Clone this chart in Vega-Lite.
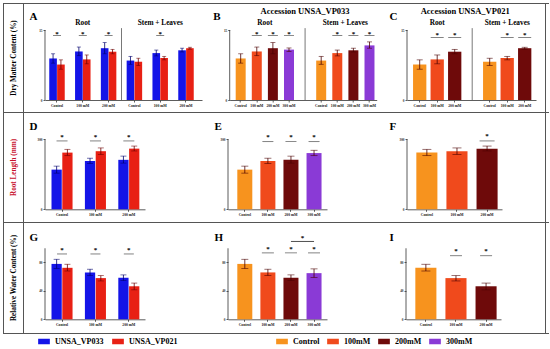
{
"$schema": "https://vega.github.io/schema/vega-lite/v6.json",
"padding": {"left": 3, "top": 3, "right": 0, "bottom": 0},
"datasets": {
"dmc": [
{"acc":"UNSA_VP033","tr":"Control","key":"Root|Control","v":8.9,"lo":7.9,"hi":9.9},
{"acc":"UNSA_VP033","tr":"100mM","key":"Root|100mM","v":10.4,"lo":9.5,"hi":11.35},
{"acc":"UNSA_VP033","tr":"200mM","key":"Root|200mM","v":11.1,"lo":9.9,"hi":12.3},
{"acc":"UNSA_VP033","tr":"300mM","key":"Root|300mM","v":10.8,"lo":10.4,"hi":11.15},
{"acc":"UNSA_VP033","tr":"Control","key":"Stem|Control","v":8.45,"lo":7.65,"hi":9.35},
{"acc":"UNSA_VP033","tr":"100mM","key":"Stem|100mM","v":10.05,"lo":9.45,"hi":10.7},
{"acc":"UNSA_VP033","tr":"200mM","key":"Stem|200mM","v":10.65,"lo":10.3,"hi":11.1},
{"acc":"UNSA_VP033","tr":"300mM","key":"Stem|300mM","v":11.7,"lo":11.1,"hi":12.45},
{"acc":"UNSA_VP021","tr":"Control","key":"Root|Control","v":7.6,"lo":6.6,"hi":8.6},
{"acc":"UNSA_VP021","tr":"100mM","key":"Root|100mM","v":8.7,"lo":7.75,"hi":9.65},
{"acc":"UNSA_VP021","tr":"200mM","key":"Root|200mM","v":10.35,"lo":9.9,"hi":10.85},
{"acc":"UNSA_VP021","tr":"Control","key":"Stem|Control","v":8.2,"lo":7.4,"hi":8.95},
{"acc":"UNSA_VP021","tr":"100mM","key":"Stem|100mM","v":9.0,"lo":8.6,"hi":9.35},
{"acc":"UNSA_VP021","tr":"200mM","key":"Stem|200mM","v":11.1,"lo":10.9,"hi":11.3}
],
"rl": [
{"acc":"UNSA_VP033","tr":"Control","key":"Control","v":170,"lo":155,"hi":185},
{"acc":"UNSA_VP033","tr":"100mM","key":"100mM","v":207,"lo":196,"hi":219},
{"acc":"UNSA_VP033","tr":"200mM","key":"200mM","v":212,"lo":198,"hi":228},
{"acc":"UNSA_VP033","tr":"300mM","key":"300mM","v":241,"lo":230,"hi":253},
{"acc":"UNSA_VP021","tr":"Control","key":"Control","v":243,"lo":230,"hi":257},
{"acc":"UNSA_VP021","tr":"100mM","key":"100mM","v":249,"lo":235,"hi":263},
{"acc":"UNSA_VP021","tr":"200mM","key":"200mM","v":260,"lo":250,"hi":271}
],
"rwc": [
{"acc":"UNSA_VP033","tr":"Control","key":"Control","v":78,"lo":71.5,"hi":84.5},
{"acc":"UNSA_VP033","tr":"100mM","key":"100mM","v":66,"lo":61.5,"hi":70.5},
{"acc":"UNSA_VP033","tr":"200mM","key":"200mM","v":58.5,"lo":54.5,"hi":62.5},
{"acc":"UNSA_VP033","tr":"300mM","key":"300mM","v":65,"lo":59,"hi":71},
{"acc":"UNSA_VP021","tr":"Control","key":"Control","v":72.5,"lo":68,"hi":77.5},
{"acc":"UNSA_VP021","tr":"100mM","key":"100mM","v":58,"lo":54,"hi":61.5},
{"acc":"UNSA_VP021","tr":"200mM","key":"200mM","v":46.5,"lo":41.5,"hi":51}
],
"sig": [
{"p":"A","key":"Root|Control"},{"p":"A","key":"Root|100mM"},{"p":"A","key":"Root|200mM"},{"p":"A","key":"Stem|100mM"},
{"p":"B","key":"Root|100mM"},{"p":"B","key":"Root|200mM"},{"p":"B","key":"Root|300mM"},{"p":"B","key":"Stem|100mM"},{"p":"B","key":"Stem|200mM"},{"p":"B","key":"Stem|300mM"},
{"p":"C","key":"Root|100mM"},{"p":"C","key":"Root|200mM"},{"p":"C","key":"Stem|100mM"},{"p":"C","key":"Stem|200mM"},
{"p":"D","key":"Control"},{"p":"D","key":"100mM"},{"p":"D","key":"200mM"},
{"p":"E","key":"100mM"},{"p":"E","key":"200mM"},{"p":"E","key":"300mM"},
{"p":"F","key":"200mM"},
{"p":"G","key":"Control"},{"p":"G","key":"100mM"},{"p":"G","key":"200mM"},
{"p":"H","key":"100mM"},{"p":"H","key":"200mM"},{"p":"H","key":"300mM"},
{"p":"I","key":"100mM"},{"p":"I","key":"200mM"}
]
},
"spacing": 0,
"resolve": {"scale": {"xOffset": "independent"}},
"vconcat": [
{"width": 546, "height": 1, "data": {"values": []}, "mark": {"type": "text", "fontSize": 0}, "encoding": {"text": {"value": ""}}, "view": {"fill": "#555", "stroke": null}},
{"hconcat": [
 {"width": 1, "height": 108, "data": {"values": []}, "mark": {"type": "text", "fontSize": 0}, "encoding": {"text": {"value": ""}}, "view": {"fill": "#555", "stroke": null}},
 {"width": 19, "height": 108, "data": {"values": [{"t": "Dry Matter Content (%)"}]}, "mark": {"type": "text", "angle": 270, "fontSize": 7.2}, "encoding": {"text": {"field": "t"}}},
 {"hconcat": [
  {"width": 1, "height": 108, "data": {"values": []}, "mark": {"type": "text", "fontSize": 0}, "encoding": {"text": {"value": ""}}, "view": {"fill": "#555", "stroke": null}},
  {"hconcat": [
   {"width": 157, "height": 108,
    "encoding": {"x": {"field": "key", "type": "nominal", "scale": {"domain": ["Root|Control","Root|100mM","Root|200mM","Stem|Control","Stem|100mM","Stem|200mM"], "paddingInner": 0.4, "paddingOuter": 0.2426, "align": 0.34}, "axis": {"title": null, "values": ["Root|Control","Root|100mM","Root|200mM","Stem|Control","Stem|100mM","Stem|200mM"], "labelExpr": "replace(slice(datum.value, 5), 'mM', ' mM')", "offset": -12}}},
    "layer": [
     {"data": {"name": "dmc"}, "transform": [{"filter": "datum.tr != '300mM'"}], "mark": "bar",
      "encoding": {
       "xOffset": {"field": "acc", "type": "nominal", "scale": {"domain": ["UNSA_VP033","UNSA_VP021"], "paddingInner": 0.03, "paddingOuter": 0}},
       "y": {"field": "v", "type": "quantitative", "scale": {"domain": [-2.571, 20.571], "nice": false, "zero": false}, "axis": {"title": "A", "titleX": -16, "titleY": 12, "values": [0,5,10,15], "domain": false}},
       "y2": {"datum": 0},
       "color": {"field": "acc", "type": "nominal", "scale": {"domain": ["UNSA_VP033","UNSA_VP021"], "range": ["#1414e8","#e82014"]}, "legend": {"title": null, "orient": "none", "legendX": 35, "legendY": 332.5, "direction": "horizontal", "columnPadding": 8}}}},
     {"data": {"name": "dmc"}, "transform": [{"filter": "datum.tr != '300mM'"}], "mark": {"type": "rule", "strokeWidth": 0.8},
      "encoding": {"xOffset": {"field": "acc", "type": "nominal"}, "y": {"field": "lo", "type": "quantitative"}, "y2": {"field": "hi"}, "color": {"condition": {"test": "datum.acc == 'UNSA_VP033'", "value": "#00006e"}, "value": "#6e0000"}}},
     {"data": {"name": "dmc"}, "transform": [{"filter": "datum.tr != '300mM'"}], "mark": {"type": "tick", "size": 4, "thickness": 0.8},
      "encoding": {"xOffset": {"field": "acc", "type": "nominal"}, "y": {"field": "lo", "type": "quantitative"}, "color": {"condition": {"test": "datum.acc == 'UNSA_VP033'", "value": "#00006e"}, "value": "#6e0000"}}},
     {"data": {"name": "dmc"}, "transform": [{"filter": "datum.tr != '300mM'"}], "mark": {"type": "tick", "size": 4, "thickness": 0.8},
      "encoding": {"xOffset": {"field": "acc", "type": "nominal"}, "y": {"field": "hi", "type": "quantitative"}, "color": {"condition": {"test": "datum.acc == 'UNSA_VP033'", "value": "#00006e"}, "value": "#6e0000"}}},
     {"data": {"name": "sig"}, "transform": [{"filter": "datum.p == 'A'"}], "mark": {"type": "text", "text": "*", "fontSize": 7}, "encoding": {"y": {"datum": 14.16}}},
     {"data": {"name": "sig"}, "transform": [{"filter": "datum.p == 'A'"}], "mark": {"type": "tick", "size": 8, "thickness": 0.8, "color": "#222"}, "encoding": {"y": {"datum": 13.8}}},
     {"data": {"values": [{"key": "Root|100mM", "t": "Root"}, {"key": "Stem|100mM", "t": "Stem + Leaves"}]}, "mark": {"type": "text", "fontSize": 7.3}, "encoding": {"text": {"field": "t"}, "y": {"datum": 16.4}}},
     {"data": {"values": [{"key": "Stem|Control"}]}, "mark": {"type": "rule", "color": "#555", "strokeWidth": 0.8}, "encoding": {"x": {"field": "key", "type": "nominal", "bandPosition": -0.333}, "y": {"datum": 0}, "y2": {"datum": 15.4}}},
     {"data": {"values": [{"key": "Root|Control"}]}, "mark": {"type": "rule", "color": "#333", "strokeWidth": 0.8}, "encoding": {"x": {"field": "key", "type": "nominal", "bandPosition": -0.275}, "y": {"datum": 0}, "y2": {"datum": 15}}}
    ]},
   {"hconcat": [
    {"width": 147, "height": 108,
     "encoding": {"x": {"field": "key", "type": "nominal", "scale": {"domain": ["Root|Control","Root|100mM","Root|200mM","Root|300mM","gap","Stem|Control","Stem|100mM","Stem|200mM","Stem|300mM"], "paddingInner": 0.38, "paddingOuter": 0.255, "align": 0.73}, "axis": {"title": null, "values": ["Root|Control","Root|100mM","Root|200mM","Root|300mM","Stem|Control","Stem|100mM","Stem|200mM","Stem|300mM"], "labelExpr": "replace(slice(datum.value, 5), 'mM', ' mM')", "offset": -12}}},
     "layer": [
      {"data": {"name": "dmc"}, "transform": [{"filter": "datum.acc == 'UNSA_VP033'"}], "mark": "bar",
       "encoding": {
        "y": {"field": "v", "type": "quantitative", "scale": {"domain": [-2.571, 20.571], "nice": false, "zero": false}, "axis": {"title": "B", "titleX": -17, "titleY": 12, "values": [0,5,10,15], "domain": false}},
        "y2": {"datum": 0},
        "fill": {"field": "tr", "type": "nominal", "scale": {"domain": ["Control","100mM","200mM","300mM"], "range": ["#f7931e","#f04a1c","#6e0a0a","#8a3ad6"]}, "legend": {"title": null, "orient": "none", "legendX": 273, "legendY": 332.5, "direction": "horizontal", "columnPadding": 7}}}},
      {"data": {"name": "dmc"}, "transform": [{"filter": "datum.acc == 'UNSA_VP033'"}], "mark": {"type": "rule", "strokeWidth": 0.8, "color": "#4a0000"}, "encoding": {"y": {"field": "lo", "type": "quantitative"}, "y2": {"field": "hi"}}},
      {"data": {"name": "dmc"}, "transform": [{"filter": "datum.acc == 'UNSA_VP033'"}], "mark": {"type": "tick", "size": 5, "thickness": 0.8, "color": "#4a0000"}, "encoding": {"y": {"field": "lo", "type": "quantitative"}}},
      {"data": {"name": "dmc"}, "transform": [{"filter": "datum.acc == 'UNSA_VP033'"}], "mark": {"type": "tick", "size": 5, "thickness": 0.8, "color": "#4a0000"}, "encoding": {"y": {"field": "hi", "type": "quantitative"}}},
      {"data": {"name": "sig"}, "transform": [{"filter": "datum.p == 'B'"}], "mark": {"type": "text", "text": "*", "fontSize": 7}, "encoding": {"y": {"datum": 14.16}}},
      {"data": {"name": "sig"}, "transform": [{"filter": "datum.p == 'B'"}], "mark": {"type": "tick", "size": 10, "thickness": 0.8, "color": "#222"}, "encoding": {"y": {"datum": 13.8}}},
      {"data": {"values": [{"key": "Root|200mM", "t": "Root"}, {"key": "Stem|200mM", "t": "Stem + Leaves"}]}, "mark": {"type": "text", "fontSize": 7.3}, "encoding": {"x": {"field": "key", "type": "nominal", "bandPosition": -0.306}, "text": {"field": "t"}, "y": {"datum": 16.4}}},
      {"data": {"values": [{"key": "gap", "t": "Accession UNSA_VP033"}]}, "mark": {"type": "text", "fontSize": 8.5}, "encoding": {"text": {"field": "t"}, "y": {"datum": 19.1}}},
      {"data": {"values": [{"key": "gap"}]}, "mark": {"type": "rule", "color": "#555", "strokeWidth": 0.8}, "encoding": {"y": {"datum": 0}, "y2": {"datum": 15.4}}},
      {"data": {"values": [{"key": "Root|Control"}]}, "mark": {"type": "rule", "color": "#333", "strokeWidth": 0.8}, "encoding": {"x": {"field": "key", "type": "nominal", "bandPosition": -0.6003}, "y": {"datum": 0}, "y2": {"datum": 15}}}
     ]},
    {"hconcat": [
     {"width": 129, "height": 108,
      "encoding": {"x": {"field": "key", "type": "nominal", "scale": {"domain": ["Root|Control","Root|100mM","Root|200mM","gap","Stem|Control","Stem|100mM","Stem|200mM"], "paddingInner": 0.24, "paddingOuter": 0.306, "align": 0.565}, "axis": {"title": null, "values": ["Root|Control","Root|100mM","Root|200mM","Stem|Control","Stem|100mM","Stem|200mM"], "labelExpr": "replace(slice(datum.value, 5), 'mM', ' mM')", "offset": -12}}},
      "layer": [
       {"data": {"name": "dmc"}, "transform": [{"filter": "datum.acc == 'UNSA_VP021'"}], "mark": "bar",
        "encoding": {
         "y": {"field": "v", "type": "quantitative", "scale": {"domain": [-2.571, 20.571], "nice": false, "zero": false}, "axis": {"title": "C", "titleX": -18, "titleY": 12, "values": [0,5,10,15], "domain": false}},
         "y2": {"datum": 0},
         "fill": {"field": "tr", "type": "nominal", "scale": {"domain": ["Control","100mM","200mM","300mM"], "range": ["#f7931e","#f04a1c","#6e0a0a","#8a3ad6"]}}}},
       {"data": {"name": "dmc"}, "transform": [{"filter": "datum.acc == 'UNSA_VP021'"}], "mark": {"type": "rule", "strokeWidth": 0.8, "color": "#4a0000"}, "encoding": {"y": {"field": "lo", "type": "quantitative"}, "y2": {"field": "hi"}}},
       {"data": {"name": "dmc"}, "transform": [{"filter": "datum.acc == 'UNSA_VP021'"}], "mark": {"type": "tick", "size": 6, "thickness": 0.8, "color": "#4a0000"}, "encoding": {"y": {"field": "lo", "type": "quantitative"}}},
       {"data": {"name": "dmc"}, "transform": [{"filter": "datum.acc == 'UNSA_VP021'"}], "mark": {"type": "tick", "size": 6, "thickness": 0.8, "color": "#4a0000"}, "encoding": {"y": {"field": "hi", "type": "quantitative"}}},
       {"data": {"name": "sig"}, "transform": [{"filter": "datum.p == 'C'"}], "mark": {"type": "text", "text": "*", "fontSize": 7}, "encoding": {"y": {"datum": 14.0}}},
       {"data": {"name": "sig"}, "transform": [{"filter": "datum.p == 'C'"}], "mark": {"type": "tick", "size": 13, "thickness": 0.8, "color": "#222"}, "encoding": {"y": {"datum": 13.4}}},
       {"data": {"values": [{"key": "Root|100mM", "t": "Root"}, {"key": "Stem|100mM", "t": "Stem + Leaves"}]}, "mark": {"type": "text", "fontSize": 7.3}, "encoding": {"text": {"field": "t"}, "y": {"datum": 16.4}}},
       {"data": {"values": [{"key": "gap", "t": "Accession UNSA_VP021"}]}, "mark": {"type": "text", "fontSize": 8.5, "dx": -7}, "encoding": {"text": {"field": "t"}, "y": {"datum": 19.1}}},
       {"data": {"values": [{"key": "gap"}]}, "mark": {"type": "rule", "color": "#555", "strokeWidth": 0.8}, "encoding": {"y": {"datum": 0}, "y2": {"datum": 15.4}}},
       {"data": {"values": [{"key": "Root|Control"}]}, "mark": {"type": "rule", "color": "#333", "strokeWidth": 0.8}, "encoding": {"x": {"field": "key", "type": "nominal", "bandPosition": -0.4549}, "y": {"datum": 0}, "y2": {"datum": 15}}}
      ]},
     {"width": 1, "height": 108, "data": {"values": []}, "mark": {"type": "text", "fontSize": 0}, "encoding": {"text": {"value": ""}}, "view": {"fill": "#555", "stroke": null}}
    ], "spacing": 9, "resolve": {"scale": {"xOffset": "independent"}}}
   ], "spacing": 12.3, "resolve": {"scale": {"xOffset": "independent"}}}
  ], "spacing": 10.7, "resolve": {"scale": {"xOffset": "independent"}}}
 ], "spacing": 5, "resolve": {"scale": {"xOffset": "independent"}}}
], "spacing": 0, "resolve": {"scale": {"xOffset": "independent"}}},
{"width": 546, "height": 1, "data": {"values": []}, "mark": {"type": "text", "fontSize": 0}, "encoding": {"text": {"value": ""}}, "view": {"fill": "#555", "stroke": null}},
{"hconcat": [
 {"width": 1, "height": 109, "data": {"values": []}, "mark": {"type": "text", "fontSize": 0}, "encoding": {"text": {"value": ""}}, "view": {"fill": "#555", "stroke": null}},
 {"width": 19, "height": 109, "data": {"values": [{"t": "Root Length (mm)"}]}, "mark": {"type": "text", "angle": 270, "fontSize": 7.2, "color": "#c8102e"}, "encoding": {"text": {"field": "t"}}},
 {"hconcat": [
  {"width": 1, "height": 109, "data": {"values": []}, "mark": {"type": "text", "fontSize": 0}, "encoding": {"text": {"value": ""}}, "view": {"fill": "#555", "stroke": null}},
  {"hconcat": [
   {"width": 100, "height": 109,
    "encoding": {"x": {"field": "key", "type": "nominal", "scale": {"domain": ["Control","100mM","200mM"], "paddingInner": 0.37, "paddingOuter": 0.182, "align": 0.535}, "axis": {"title": null, "labelExpr": "replace(datum.value, 'mM', ' mM')", "offset": -12.7}}},
    "layer": [
     {"data": {"name": "rl"}, "transform": [{"filter": "datum.tr != '300mM'"}], "mark": "bar",
      "encoding": {
       "xOffset": {"field": "acc", "type": "nominal", "scale": {"domain": ["UNSA_VP033","UNSA_VP021"], "paddingInner": 0.05, "paddingOuter": 0}},
       "y": {"field": "v", "type": "quantitative", "scale": {"domain": [-54.4, 412.7], "nice": false, "zero": false}, "axis": {"title": "D", "titleX": -16, "titleY": 13, "values": [0,100,200,300], "domain": false}},
       "y2": {"datum": 0},
       "color": {"field": "acc", "type": "nominal", "scale": {"domain": ["UNSA_VP033","UNSA_VP021"], "range": ["#1414e8","#e82014"]}}}},
     {"data": {"name": "rl"}, "transform": [{"filter": "datum.tr != '300mM'"}], "mark": {"type": "rule", "strokeWidth": 0.8},
      "encoding": {"xOffset": {"field": "acc", "type": "nominal"}, "y": {"field": "lo", "type": "quantitative"}, "y2": {"field": "hi"}, "color": {"condition": {"test": "datum.acc == 'UNSA_VP033'", "value": "#00006e"}, "value": "#6e0000"}}},
     {"data": {"name": "rl"}, "transform": [{"filter": "datum.tr != '300mM'"}], "mark": {"type": "tick", "size": 6, "thickness": 0.8},
      "encoding": {"xOffset": {"field": "acc", "type": "nominal"}, "y": {"field": "lo", "type": "quantitative"}, "color": {"condition": {"test": "datum.acc == 'UNSA_VP033'", "value": "#00006e"}, "value": "#6e0000"}}},
     {"data": {"name": "rl"}, "transform": [{"filter": "datum.tr != '300mM'"}], "mark": {"type": "tick", "size": 6, "thickness": 0.8},
      "encoding": {"xOffset": {"field": "acc", "type": "nominal"}, "y": {"field": "hi", "type": "quantitative"}, "color": {"condition": {"test": "datum.acc == 'UNSA_VP033'", "value": "#00006e"}, "value": "#6e0000"}}},
     {"data": {"name": "sig"}, "transform": [{"filter": "datum.p == 'D'"}], "mark": {"type": "text", "text": "*", "fontSize": 7}, "encoding": {"y": {"datum": 307.8}}},
     {"data": {"name": "sig"}, "transform": [{"filter": "datum.p == 'D'"}], "mark": {"type": "tick", "size": 11, "thickness": 0.8, "color": "#222"}, "encoding": {"y": {"datum": 293}}},
     {"data": {"values": [{"key": "Control"}]}, "mark": {"type": "rule", "color": "#333", "strokeWidth": 0.8}, "encoding": {"x": {"field": "key", "type": "nominal", "bandPosition": -0.3091}, "y": {"datum": 0}, "y2": {"datum": 300}}}
    ]},
   {"hconcat": [
    {"width": 99, "height": 109,
     "encoding": {"x": {"field": "key", "type": "nominal", "scale": {"domain": ["Control","100mM","200mM","300mM"], "paddingInner": 0.35, "paddingOuter": 0.32, "align": 0.63}, "axis": {"title": null, "labelExpr": "replace(datum.value, 'mM', ' mM')", "offset": -12.7}}},
     "layer": [
      {"data": {"name": "rl"}, "transform": [{"filter": "datum.acc == 'UNSA_VP033'"}], "mark": "bar",
       "encoding": {
        "y": {"field": "v", "type": "quantitative", "scale": {"domain": [-54.4, 412.7], "nice": false, "zero": false}, "axis": {"title": "E", "titleX": -14, "titleY": 13, "values": [0,100,200,300], "domain": false}},
        "y2": {"datum": 0},
        "fill": {"field": "tr", "type": "nominal", "scale": {"domain": ["Control","100mM","200mM","300mM"], "range": ["#f7931e","#f04a1c","#6e0a0a","#8a3ad6"]}}}},
      {"data": {"name": "rl"}, "transform": [{"filter": "datum.acc == 'UNSA_VP033'"}], "mark": {"type": "rule", "strokeWidth": 0.8, "color": "#4a0000"}, "encoding": {"y": {"field": "lo", "type": "quantitative"}, "y2": {"field": "hi"}}},
      {"data": {"name": "rl"}, "transform": [{"filter": "datum.acc == 'UNSA_VP033'"}], "mark": {"type": "tick", "size": 7, "thickness": 0.8, "color": "#4a0000"}, "encoding": {"y": {"field": "lo", "type": "quantitative"}}},
      {"data": {"name": "rl"}, "transform": [{"filter": "datum.acc == 'UNSA_VP033'"}], "mark": {"type": "tick", "size": 7, "thickness": 0.8, "color": "#4a0000"}, "encoding": {"y": {"field": "hi", "type": "quantitative"}}},
      {"data": {"name": "sig"}, "transform": [{"filter": "datum.p == 'E'"}], "mark": {"type": "text", "text": "*", "fontSize": 7}, "encoding": {"y": {"datum": 307.8}}},
      {"data": {"name": "sig"}, "transform": [{"filter": "datum.p == 'E'"}], "mark": {"type": "tick", "size": 11, "thickness": 0.8, "color": "#222"}, "encoding": {"y": {"datum": 290}}},
      {"data": {"values": [{"key": "Control"}]}, "mark": {"type": "rule", "color": "#333", "strokeWidth": 0.8}, "encoding": {"x": {"field": "key", "type": "nominal", "bandPosition": -0.62}, "y": {"datum": 0}, "y2": {"datum": 300}}}
     ]},
    {"hconcat": [
     {"width": 95, "height": 109,
      "encoding": {"x": {"field": "key", "type": "nominal", "scale": {"domain": ["Control","100mM","200mM"], "paddingInner": 0.3, "paddingOuter": 0.228, "align": 0.68}, "axis": {"title": null, "labelExpr": "replace(datum.value, 'mM', ' mM')", "offset": -12.7}}},
      "layer": [
       {"data": {"name": "rl"}, "transform": [{"filter": "datum.acc == 'UNSA_VP021'"}], "mark": "bar",
        "encoding": {
         "y": {"field": "v", "type": "quantitative", "scale": {"domain": [-54.4, 412.7], "nice": false, "zero": false}, "axis": {"title": "F", "titleX": -18, "titleY": 13, "values": [0,100,200,300], "domain": false}},
         "y2": {"datum": 0},
         "fill": {"field": "tr", "type": "nominal", "scale": {"domain": ["Control","100mM","200mM","300mM"], "range": ["#f7931e","#f04a1c","#6e0a0a","#8a3ad6"]}}}},
       {"data": {"name": "rl"}, "transform": [{"filter": "datum.acc == 'UNSA_VP021'"}], "mark": {"type": "rule", "strokeWidth": 0.8, "color": "#4a0000"}, "encoding": {"y": {"field": "lo", "type": "quantitative"}, "y2": {"field": "hi"}}},
       {"data": {"name": "rl"}, "transform": [{"filter": "datum.acc == 'UNSA_VP021'"}], "mark": {"type": "tick", "size": 9, "thickness": 0.8, "color": "#4a0000"}, "encoding": {"y": {"field": "lo", "type": "quantitative"}}},
       {"data": {"name": "rl"}, "transform": [{"filter": "datum.acc == 'UNSA_VP021'"}], "mark": {"type": "tick", "size": 9, "thickness": 0.8, "color": "#4a0000"}, "encoding": {"y": {"field": "hi", "type": "quantitative"}}},
       {"data": {"name": "sig"}, "transform": [{"filter": "datum.p == 'F'"}], "mark": {"type": "text", "text": "*", "fontSize": 7}, "encoding": {"y": {"datum": 312}}},
       {"data": {"name": "sig"}, "transform": [{"filter": "datum.p == 'F'"}], "mark": {"type": "tick", "size": 15, "thickness": 0.8, "color": "#222"}, "encoding": {"y": {"datum": 293}}},
       {"data": {"values": [{"key": "Control"}]}, "mark": {"type": "rule", "color": "#333", "strokeWidth": 0.8}, "encoding": {"x": {"field": "key", "type": "nominal", "bandPosition": -0.4429}, "y": {"datum": 0}, "y2": {"datum": 300}}}
      ]},
     {"width": 1, "height": 109, "data": {"values": []}, "mark": {"type": "text", "fontSize": 0}, "encoding": {"text": {"value": ""}}, "view": {"fill": "#555", "stroke": null}}
    ], "spacing": 43, "resolve": {"scale": {"xOffset": "independent"}}}
   ], "spacing": 62, "resolve": {"scale": {"xOffset": "independent"}}}
  ], "spacing": 69, "resolve": {"scale": {"xOffset": "independent"}}}
 ], "spacing": 5, "resolve": {"scale": {"xOffset": "independent"}}}
], "spacing": 0, "resolve": {"scale": {"xOffset": "independent"}}},
{"width": 546, "height": 1, "data": {"values": []}, "mark": {"type": "text", "fontSize": 0}, "encoding": {"text": {"value": ""}}, "view": {"fill": "#555", "stroke": null}},
{"hconcat": [
 {"width": 1, "height": 110, "data": {"values": []}, "mark": {"type": "text", "fontSize": 0}, "encoding": {"text": {"value": ""}}, "view": {"fill": "#555", "stroke": null}},
 {"width": 19, "height": 110, "data": {"values": [{"t": "Relative Water Content (%)"}]}, "mark": {"type": "text", "angle": 270, "fontSize": 7.2}, "encoding": {"text": {"field": "t"}}},
 {"hconcat": [
  {"width": 1, "height": 110, "data": {"values": []}, "mark": {"type": "text", "fontSize": 0}, "encoding": {"text": {"value": ""}}, "view": {"fill": "#555", "stroke": null}},
  {"hconcat": [
   {"width": 100, "height": 110,
    "encoding": {"x": {"field": "key", "type": "nominal", "scale": {"domain": ["Control","100mM","200mM"], "paddingInner": 0.37, "paddingOuter": 0.182, "align": 0.535}, "axis": {"title": null, "labelExpr": "replace(datum.value, 'mM', ' mM')", "offset": -13.7}}},
    "layer": [
     {"data": {"name": "rwc"}, "transform": [{"filter": "datum.tr != '300mM'"}], "mark": "bar",
      "encoding": {
       "xOffset": {"field": "acc", "type": "nominal", "scale": {"domain": ["UNSA_VP033","UNSA_VP021"], "paddingInner": 0.05, "paddingOuter": 0}},
       "y": {"field": "v", "type": "quantitative", "scale": {"domain": [-19.3, 135.6], "nice": false, "zero": false}, "axis": {"title": "G", "titleX": -16, "titleY": 14, "values": [0,20,40,60,80,100], "domain": false}},
       "y2": {"datum": 0},
       "color": {"field": "acc", "type": "nominal", "scale": {"domain": ["UNSA_VP033","UNSA_VP021"], "range": ["#1414e8","#e82014"]}}}},
     {"data": {"name": "rwc"}, "transform": [{"filter": "datum.tr != '300mM'"}], "mark": {"type": "rule", "strokeWidth": 0.8},
      "encoding": {"xOffset": {"field": "acc", "type": "nominal"}, "y": {"field": "lo", "type": "quantitative"}, "y2": {"field": "hi"}, "color": {"condition": {"test": "datum.acc == 'UNSA_VP033'", "value": "#00006e"}, "value": "#6e0000"}}},
     {"data": {"name": "rwc"}, "transform": [{"filter": "datum.tr != '300mM'"}], "mark": {"type": "tick", "size": 6, "thickness": 0.8},
      "encoding": {"xOffset": {"field": "acc", "type": "nominal"}, "y": {"field": "lo", "type": "quantitative"}, "color": {"condition": {"test": "datum.acc == 'UNSA_VP033'", "value": "#00006e"}, "value": "#6e0000"}}},
     {"data": {"name": "rwc"}, "transform": [{"filter": "datum.tr != '300mM'"}], "mark": {"type": "tick", "size": 6, "thickness": 0.8},
      "encoding": {"xOffset": {"field": "acc", "type": "nominal"}, "y": {"field": "hi", "type": "quantitative"}, "color": {"condition": {"test": "datum.acc == 'UNSA_VP033'", "value": "#00006e"}, "value": "#6e0000"}}},
     {"data": {"name": "sig"}, "transform": [{"filter": "datum.p == 'G'"}], "mark": {"type": "text", "text": "*", "fontSize": 7}, "encoding": {"y": {"datum": 97.3}}},
     {"data": {"name": "sig"}, "transform": [{"filter": "datum.p == 'G'"}], "mark": {"type": "tick", "size": 10, "thickness": 0.8, "color": "#222"}, "encoding": {"y": {"datum": 92}}},
     {"data": {"values": [{"key": "Control"}]}, "mark": {"type": "rule", "color": "#333", "strokeWidth": 0.8}, "encoding": {"x": {"field": "key", "type": "nominal", "bandPosition": -0.3091}, "y": {"datum": 0}, "y2": {"datum": 100}}}
    ]},
   {"hconcat": [
    {"width": 99, "height": 110,
     "encoding": {"x": {"field": "key", "type": "nominal", "scale": {"domain": ["Control","100mM","200mM","300mM"], "paddingInner": 0.35, "paddingOuter": 0.32, "align": 0.63}, "axis": {"title": null, "labelExpr": "replace(datum.value, 'mM', ' mM')", "offset": -13.7}}},
     "layer": [
      {"data": {"name": "rwc"}, "transform": [{"filter": "datum.acc == 'UNSA_VP033'"}], "mark": "bar",
       "encoding": {
        "y": {"field": "v", "type": "quantitative", "scale": {"domain": [-19.3, 135.6], "nice": false, "zero": false}, "axis": {"title": "H", "titleX": -14, "titleY": 14, "values": [0,20,40,60,80,100], "domain": false}},
        "y2": {"datum": 0},
        "fill": {"field": "tr", "type": "nominal", "scale": {"domain": ["Control","100mM","200mM","300mM"], "range": ["#f7931e","#f04a1c","#6e0a0a","#8a3ad6"]}}}},
      {"data": {"name": "rwc"}, "transform": [{"filter": "datum.acc == 'UNSA_VP033'"}], "mark": {"type": "rule", "strokeWidth": 0.8, "color": "#4a0000"}, "encoding": {"y": {"field": "lo", "type": "quantitative"}, "y2": {"field": "hi"}}},
      {"data": {"name": "rwc"}, "transform": [{"filter": "datum.acc == 'UNSA_VP033'"}], "mark": {"type": "tick", "size": 7, "thickness": 0.8, "color": "#4a0000"}, "encoding": {"y": {"field": "lo", "type": "quantitative"}}},
      {"data": {"name": "rwc"}, "transform": [{"filter": "datum.acc == 'UNSA_VP033'"}], "mark": {"type": "tick", "size": 7, "thickness": 0.8, "color": "#4a0000"}, "encoding": {"y": {"field": "hi", "type": "quantitative"}}},
      {"data": {"name": "sig"}, "transform": [{"filter": "datum.p == 'H'"}], "mark": {"type": "text", "text": "*", "fontSize": 7}, "encoding": {"y": {"datum": 98.5}}},
      {"data": {"name": "sig"}, "transform": [{"filter": "datum.p == 'H'"}], "mark": {"type": "tick", "size": 12, "thickness": 0.8, "color": "#222"}, "encoding": {"y": {"datum": 93.5}}},
      {"data": {"values": [{"key": "200mM", "k2": "300mM"}]}, "mark": {"type": "rule", "color": "#222", "strokeWidth": 0.8}, "encoding": {"x2": {"field": "k2"}, "y": {"datum": 109.6}}},
      {"data": {"values": [{"key": "300mM"}]}, "mark": {"type": "text", "text": "*", "fontSize": 7}, "encoding": {"x": {"field": "key", "type": "nominal", "bandPosition": -0.269}, "y": {"datum": 114}}},
      {"data": {"values": [{"key": "Control"}]}, "mark": {"type": "rule", "color": "#333", "strokeWidth": 0.8}, "encoding": {"x": {"field": "key", "type": "nominal", "bandPosition": -0.62}, "y": {"datum": 0}, "y2": {"datum": 100}}}
     ]},
    {"hconcat": [
     {"width": 95, "height": 110,
      "encoding": {"x": {"field": "key", "type": "nominal", "scale": {"domain": ["Control","100mM","200mM"], "paddingInner": 0.3, "paddingOuter": 0.228, "align": 0.68}, "axis": {"title": null, "labelExpr": "replace(datum.value, 'mM', ' mM')", "offset": -13.7}}},
      "layer": [
       {"data": {"name": "rwc"}, "transform": [{"filter": "datum.acc == 'UNSA_VP021'"}], "mark": "bar",
        "encoding": {
         "y": {"field": "v", "type": "quantitative", "scale": {"domain": [-19.3, 135.6], "nice": false, "zero": false}, "axis": {"title": "I", "titleX": -17, "titleY": 14, "values": [0,20,40,60,80,100], "domain": false}},
         "y2": {"datum": 0},
         "fill": {"field": "tr", "type": "nominal", "scale": {"domain": ["Control","100mM","200mM","300mM"], "range": ["#f7931e","#f04a1c","#6e0a0a","#8a3ad6"]}}}},
       {"data": {"name": "rwc"}, "transform": [{"filter": "datum.acc == 'UNSA_VP021'"}], "mark": {"type": "rule", "strokeWidth": 0.8, "color": "#4a0000"}, "encoding": {"y": {"field": "lo", "type": "quantitative"}, "y2": {"field": "hi"}}},
       {"data": {"name": "rwc"}, "transform": [{"filter": "datum.acc == 'UNSA_VP021'"}], "mark": {"type": "tick", "size": 9, "thickness": 0.8, "color": "#4a0000"}, "encoding": {"y": {"field": "lo", "type": "quantitative"}}},
       {"data": {"name": "rwc"}, "transform": [{"filter": "datum.acc == 'UNSA_VP021'"}], "mark": {"type": "tick", "size": 9, "thickness": 0.8, "color": "#4a0000"}, "encoding": {"y": {"field": "hi", "type": "quantitative"}}},
       {"data": {"name": "sig"}, "transform": [{"filter": "datum.p == 'I'"}], "mark": {"type": "text", "text": "*", "fontSize": 7}, "encoding": {"y": {"datum": 96}}},
       {"data": {"name": "sig"}, "transform": [{"filter": "datum.p == 'I'"}], "mark": {"type": "tick", "size": 12, "thickness": 0.8, "color": "#222"}, "encoding": {"y": {"datum": 89.5}}},
       {"data": {"values": [{"key": "Control"}]}, "mark": {"type": "rule", "color": "#333", "strokeWidth": 0.8}, "encoding": {"x": {"field": "key", "type": "nominal", "bandPosition": -0.4429}, "y": {"datum": 0}, "y2": {"datum": 100}}}
      ]},
     {"width": 1, "height": 110, "data": {"values": []}, "mark": {"type": "text", "fontSize": 0}, "encoding": {"text": {"value": ""}}, "view": {"fill": "#555", "stroke": null}}
    ], "spacing": 44, "resolve": {"scale": {"xOffset": "independent"}}}
   ], "spacing": 62, "resolve": {"scale": {"xOffset": "independent"}}}
  ], "spacing": 69, "resolve": {"scale": {"xOffset": "independent"}}}
 ], "spacing": 5, "resolve": {"scale": {"xOffset": "independent"}}}
], "spacing": 0, "resolve": {"scale": {"xOffset": "independent"}}},
{"width": 546, "height": 1, "data": {"values": []}, "mark": {"type": "text", "fontSize": 0}, "encoding": {"text": {"value": ""}}, "view": {"fill": "#555", "stroke": null}}
],
"config": {
 "font": "Liberation Serif",
 "view": {"stroke": null},
 "axis": {"grid": false, "domainColor": "#333", "tickColor": "#333", "labelColor": "#222", "domainWidth": 0.8, "tickWidth": 0.8, "tickSize": 2, "labelPadding": 1, "labelFont": "Liberation Serif", "labelFontWeight": "bold", "labelOverlap": false, "labelBound": false, "labelFlush": false, "titleFont": "Liberation Serif", "titleFontWeight": "bold", "titleFontSize": 11, "titleColor": "black"},
 "axisX": {"labelFontSize": 3.7, "labelAngle": 0},
 "axisY": {"labelFontSize": 3.3, "titleAngle": 0, "titleAlign": "left", "titleBaseline": "middle"},
 "text": {"font": "Liberation Serif", "fontWeight": "bold", "color": "black"},
 "legend": {"labelFont": "Liberation Serif", "labelFontWeight": "bold", "labelFontSize": 8, "labelColor": "black", "symbolType": "M-1,-0.47H1V0.47H-1Z", "symbolSize": 137, "symbolStrokeWidth": 0, "labelOffset": 5, "padding": 0}
}
}
